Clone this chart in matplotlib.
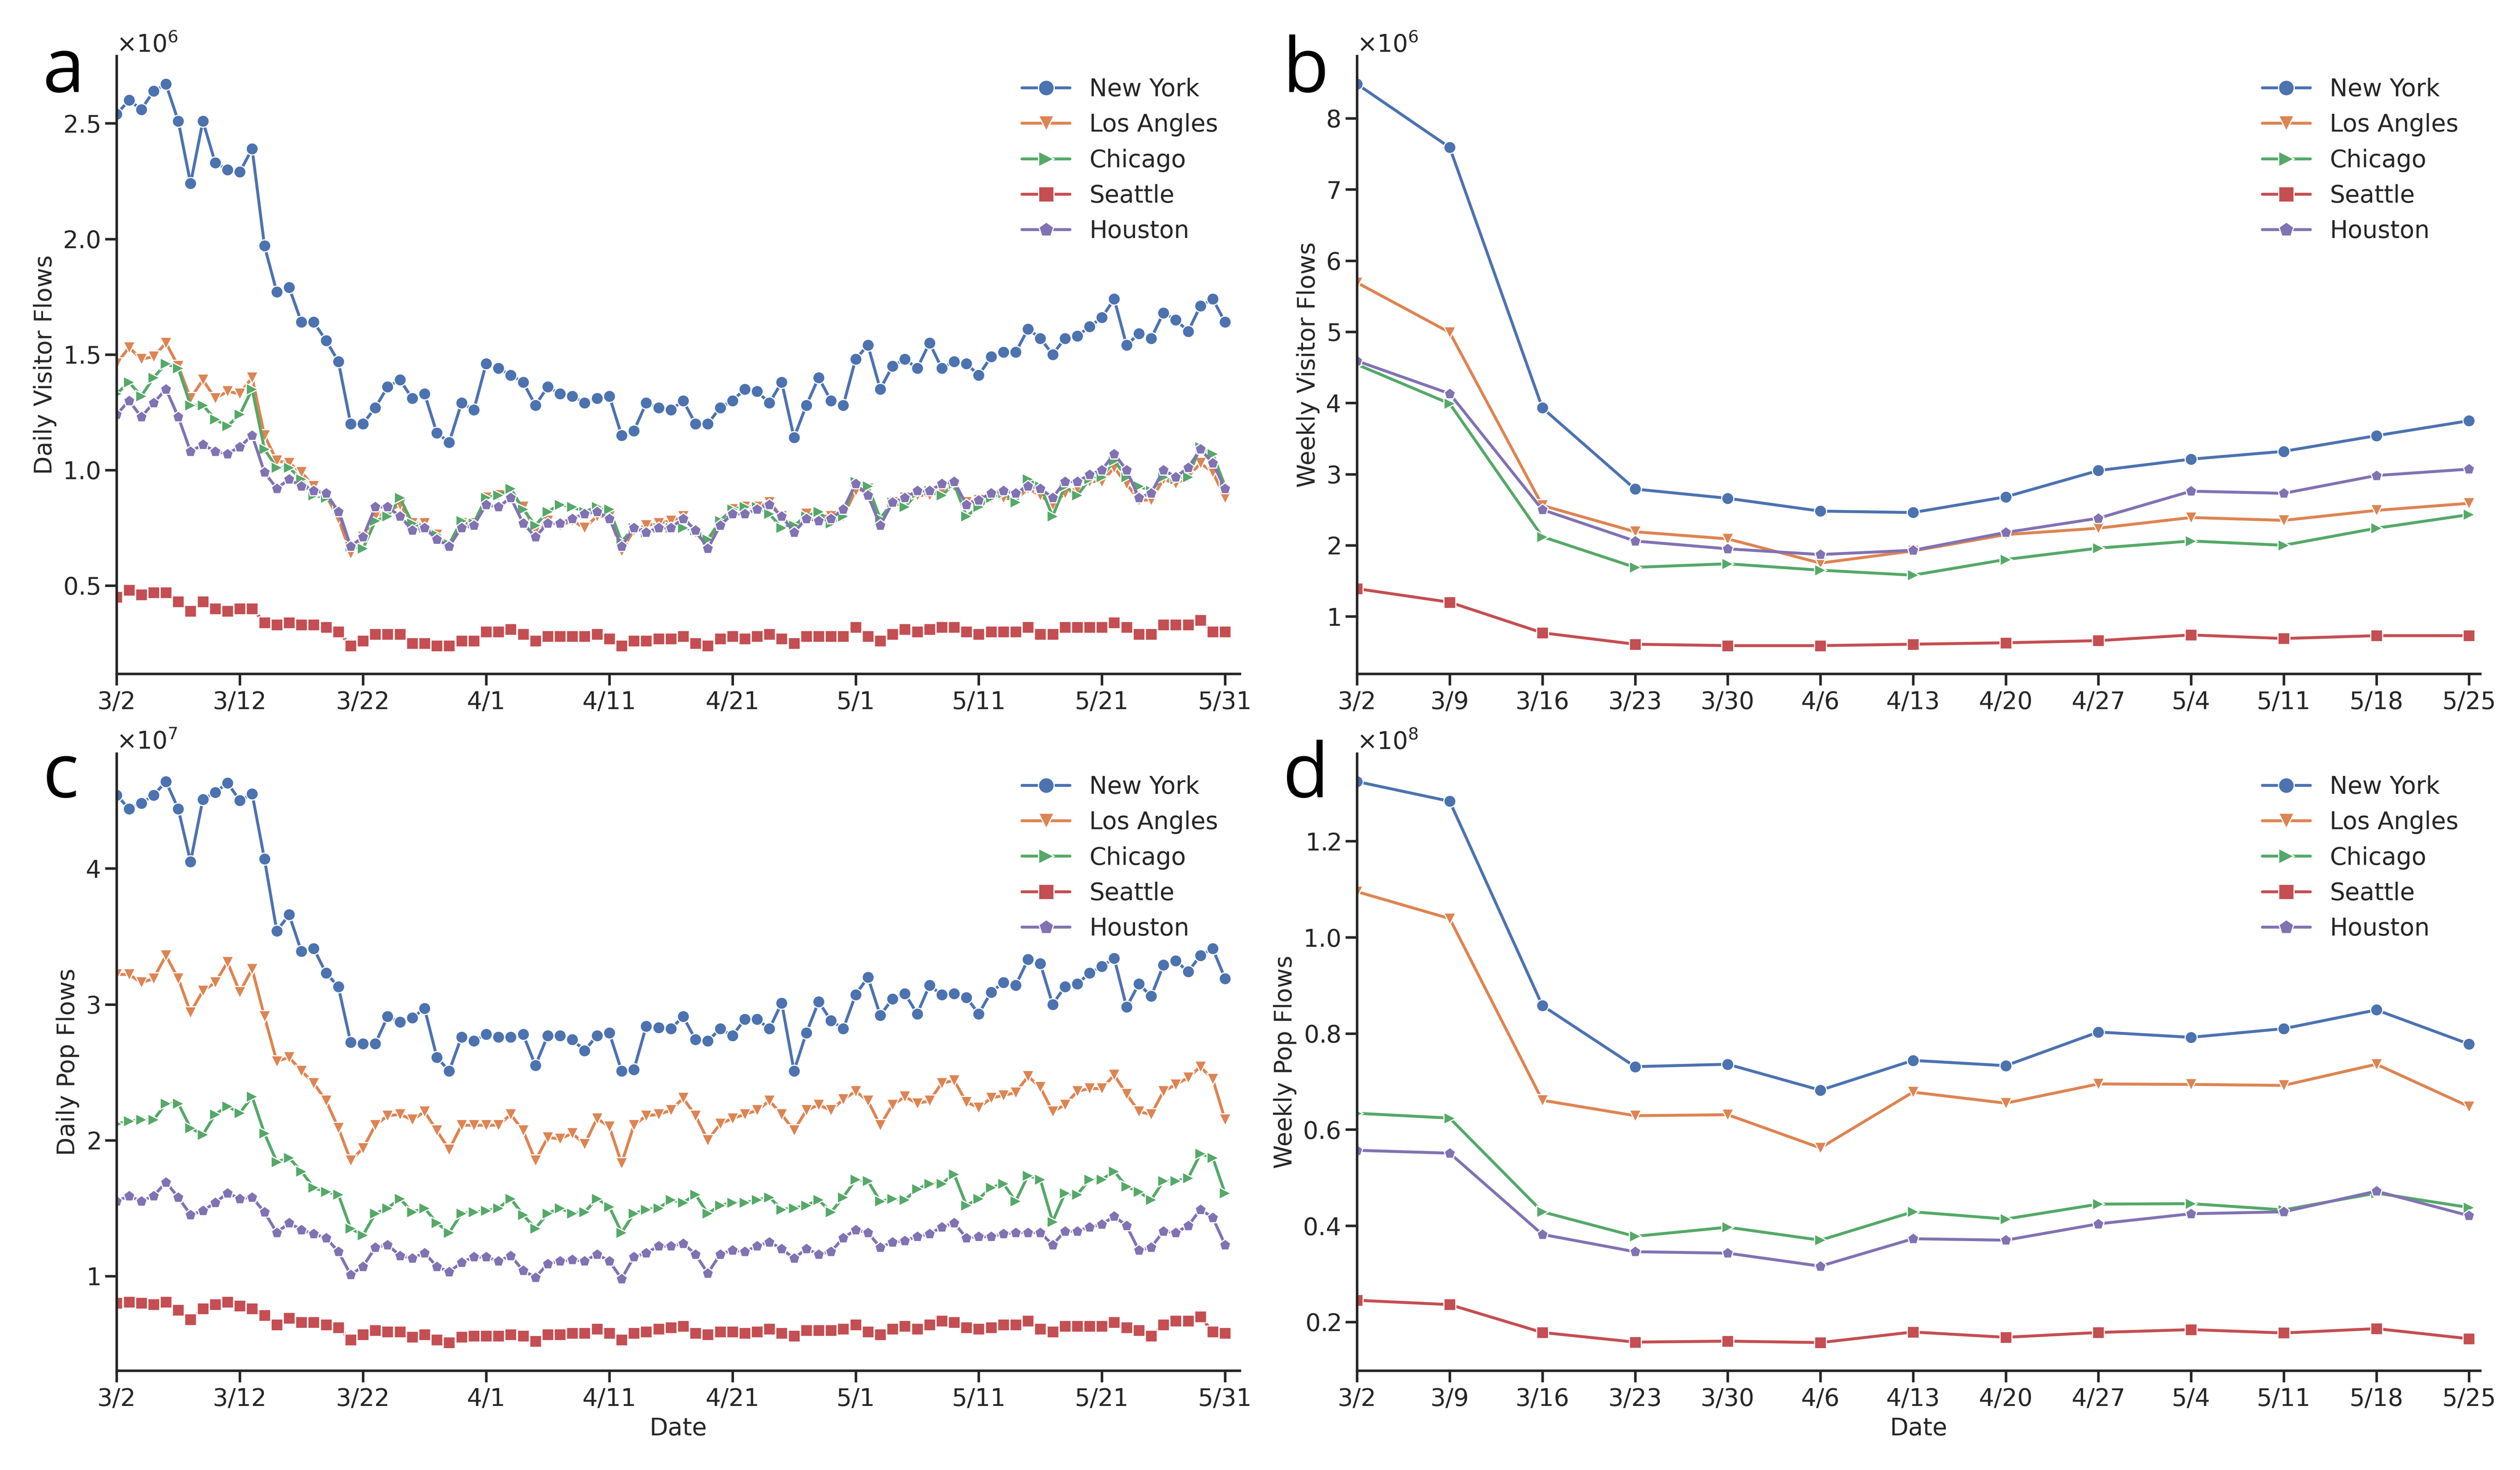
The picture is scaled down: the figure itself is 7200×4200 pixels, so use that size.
import numpy as np
import matplotlib
matplotlib.use('Agg')
from matplotlib import pyplot as plt

cities = ['New York', 'Los Angles', 'Chicago', 'Seattle', 'Houston']
colors = ['#4C72B0', '#DD8452', '#55A868', '#C44E52', '#8172B3']
markers = ['o', 'v', '>', 's', 'p']

daily_ticks = ['3/2', '3/12', '3/22', '4/1', '4/11', '4/21', '5/1', '5/11', '5/21', '5/31']
weekly_ticks = ['3/2', '3/9', '3/16', '3/23', '3/30', '4/6', '4/13', '4/20', '4/27',
                '5/4', '5/11', '5/18', '5/25']

# daily visitor flows, x1e6 (3/2 .. 5/31)
ny_visit = [2.54, 2.60, 2.56, 2.64, 2.67, 2.51, 2.24, 2.51, 2.33, 2.30, 2.29, 2.39, 1.97, 1.77, 1.79, 1.64,
            1.64, 1.56, 1.47, 1.20, 1.20, 1.27, 1.36, 1.39, 1.31, 1.33, 1.16, 1.12, 1.29, 1.26, 1.46,
            1.44, 1.41, 1.38, 1.28, 1.36, 1.33, 1.32, 1.29, 1.31, 1.32, 1.15, 1.17, 1.29, 1.27, 1.26,
            1.30, 1.20, 1.20, 1.27, 1.30, 1.35, 1.34, 1.29, 1.38, 1.14, 1.28, 1.40, 1.30, 1.28, 1.48,
            1.54, 1.35, 1.45, 1.48, 1.44, 1.55, 1.44, 1.47, 1.46, 1.41, 1.49, 1.51, 1.51, 1.61, 1.57,
            1.50, 1.57, 1.58, 1.62, 1.66, 1.74, 1.54, 1.59, 1.57, 1.68, 1.65, 1.60, 1.71, 1.74, 1.64]
la_visit = [1.46, 1.53, 1.48, 1.49, 1.55, 1.45, 1.31, 1.39, 1.31, 1.34, 1.33, 1.40, 1.15, 1.04, 1.03, 0.99,
            0.93, 0.89, 0.79, 0.64, 0.71, 0.80, 0.82, 0.85, 0.77, 0.77, 0.72, 0.67, 0.77, 0.77, 0.88,
            0.89, 0.90, 0.84, 0.74, 0.78, 0.76, 0.78, 0.75, 0.80, 0.80, 0.65, 0.74, 0.76, 0.77, 0.78,
            0.80, 0.73, 0.67, 0.77, 0.83, 0.84, 0.84, 0.86, 0.80, 0.74, 0.81, 0.80, 0.80, 0.80, 0.91,
            0.92, 0.78, 0.86, 0.88, 0.89, 0.89, 0.91, 0.93, 0.86, 0.87, 0.88, 0.88, 0.87, 0.92, 0.89,
            0.85, 0.90, 0.92, 0.95, 0.95, 1.01, 0.94, 0.87, 0.87, 0.96, 0.94, 0.97, 1.03, 0.99, 0.88]
chi_visit = [1.33, 1.38, 1.32, 1.40, 1.46, 1.44, 1.28, 1.28, 1.22, 1.19, 1.24, 1.35, 1.09, 1.01, 1.01, 0.96,
             0.89, 0.88, 0.83, 0.67, 0.66, 0.78, 0.80, 0.88, 0.77, 0.75, 0.72, 0.68, 0.78, 0.77, 0.88,
             0.89, 0.92, 0.83, 0.76, 0.82, 0.85, 0.84, 0.82, 0.84, 0.83, 0.69, 0.75, 0.73, 0.75, 0.75,
             0.75, 0.74, 0.70, 0.78, 0.83, 0.84, 0.84, 0.81, 0.75, 0.76, 0.80, 0.82, 0.77, 0.80, 0.95,
             0.93, 0.79, 0.86, 0.84, 0.90, 0.91, 0.89, 0.94, 0.80, 0.84, 0.88, 0.90, 0.86, 0.96, 0.93,
             0.80, 0.93, 0.89, 0.96, 0.97, 1.04, 0.97, 0.93, 0.91, 0.97, 0.96, 0.97, 1.10, 1.07, 0.93]
sea_visit = [0.45, 0.48, 0.46, 0.47, 0.47, 0.43, 0.39, 0.43, 0.40, 0.39, 0.40, 0.40, 0.34, 0.33, 0.34, 0.33,
             0.33, 0.32, 0.30, 0.24, 0.26, 0.29, 0.29, 0.29, 0.25, 0.25, 0.24, 0.24, 0.26, 0.26, 0.30,
             0.30, 0.31, 0.29, 0.26, 0.28, 0.28, 0.28, 0.28, 0.29, 0.27, 0.24, 0.26, 0.26, 0.27, 0.27,
             0.28, 0.25, 0.24, 0.27, 0.28, 0.27, 0.28, 0.29, 0.27, 0.25, 0.28, 0.28, 0.28, 0.28, 0.32,
             0.28, 0.26, 0.29, 0.31, 0.30, 0.31, 0.32, 0.32, 0.30, 0.29, 0.30, 0.30, 0.30, 0.32, 0.29,
             0.29, 0.32, 0.32, 0.32, 0.32, 0.34, 0.32, 0.29, 0.29, 0.33, 0.33, 0.33, 0.35, 0.30, 0.30]
hou_visit = [1.24, 1.30, 1.23, 1.29, 1.35, 1.23, 1.08, 1.11, 1.08, 1.07, 1.10, 1.15, 0.99, 0.92, 0.96, 0.93,
             0.91, 0.90, 0.82, 0.67, 0.71, 0.84, 0.84, 0.80, 0.74, 0.75, 0.70, 0.67, 0.75, 0.76, 0.85,
             0.84, 0.88, 0.77, 0.71, 0.77, 0.77, 0.79, 0.81, 0.82, 0.79, 0.67, 0.75, 0.73, 0.75, 0.75,
             0.79, 0.74, 0.66, 0.76, 0.81, 0.81, 0.83, 0.85, 0.80, 0.73, 0.79, 0.78, 0.79, 0.83, 0.94,
             0.89, 0.76, 0.86, 0.88, 0.91, 0.91, 0.94, 0.95, 0.85, 0.87, 0.90, 0.91, 0.90, 0.93, 0.92,
             0.88, 0.95, 0.95, 0.98, 1.00, 1.07, 1.00, 0.88, 0.90, 1.00, 0.97, 1.01, 1.09, 1.03, 0.92]

# daily pop flows, x1e7
ny_pop = [4.54, 4.44, 4.48, 4.54, 4.64, 4.44, 4.05, 4.51, 4.56, 4.63, 4.50, 4.55, 4.07, 3.54, 3.66, 3.39,
          3.41, 3.23, 3.13, 2.72, 2.71, 2.71, 2.91, 2.87, 2.90, 2.97, 2.61, 2.51, 2.76, 2.73, 2.78,
          2.76, 2.76, 2.78, 2.55, 2.77, 2.77, 2.74, 2.66, 2.77, 2.79, 2.51, 2.52, 2.84, 2.83, 2.82,
          2.91, 2.74, 2.73, 2.82, 2.77, 2.89, 2.89, 2.82, 3.01, 2.51, 2.79, 3.02, 2.88, 2.82, 3.07,
          3.20, 2.92, 3.04, 3.08, 2.93, 3.14, 3.07, 3.08, 3.05, 2.93, 3.09, 3.16, 3.14, 3.33, 3.30,
          3.00, 3.13, 3.15, 3.23, 3.28, 3.34, 2.98, 3.15, 3.06, 3.29, 3.32, 3.24, 3.36, 3.41, 3.19]
la_pop = [3.22, 3.22, 3.16, 3.19, 3.36, 3.19, 2.94, 3.10, 3.16, 3.31, 3.09, 3.26, 2.91, 2.58, 2.61, 2.51,
          2.42, 2.29, 2.09, 1.85, 1.94, 2.11, 2.18, 2.19, 2.15, 2.21, 2.07, 1.93, 2.11, 2.11, 2.11,
          2.11, 2.19, 2.07, 1.85, 2.02, 2.01, 2.05, 1.97, 2.16, 2.10, 1.83, 2.11, 2.18, 2.19, 2.22,
          2.31, 2.18, 2.00, 2.12, 2.16, 2.19, 2.22, 2.29, 2.19, 2.07, 2.22, 2.26, 2.22, 2.30, 2.36,
          2.29, 2.11, 2.26, 2.32, 2.27, 2.29, 2.42, 2.44, 2.28, 2.24, 2.31, 2.33, 2.35, 2.47, 2.39,
          2.21, 2.26, 2.36, 2.38, 2.38, 2.48, 2.34, 2.21, 2.19, 2.36, 2.41, 2.46, 2.54, 2.45, 2.15]
chi_pop = [2.12, 2.14, 2.15, 2.15, 2.27, 2.27, 2.09, 2.04, 2.19, 2.25, 2.20, 2.32, 2.05, 1.84, 1.87, 1.77,
           1.65, 1.62, 1.60, 1.35, 1.30, 1.46, 1.50, 1.57, 1.47, 1.50, 1.39, 1.32, 1.46, 1.47, 1.48,
           1.50, 1.57, 1.45, 1.35, 1.46, 1.50, 1.46, 1.47, 1.57, 1.51, 1.32, 1.46, 1.49, 1.50, 1.56,
           1.54, 1.60, 1.46, 1.52, 1.54, 1.54, 1.56, 1.58, 1.49, 1.50, 1.52, 1.56, 1.47, 1.58, 1.71,
           1.70, 1.55, 1.57, 1.56, 1.64, 1.68, 1.68, 1.75, 1.52, 1.57, 1.65, 1.68, 1.55, 1.74, 1.71,
           1.40, 1.61, 1.60, 1.71, 1.71, 1.77, 1.66, 1.62, 1.56, 1.70, 1.70, 1.72, 1.90, 1.87, 1.61]
sea_pop = [0.80, 0.81, 0.80, 0.79, 0.81, 0.75, 0.68, 0.76, 0.79, 0.81, 0.78, 0.76, 0.71, 0.64, 0.69, 0.66,
           0.66, 0.64, 0.62, 0.53, 0.57, 0.60, 0.59, 0.59, 0.55, 0.57, 0.53, 0.51, 0.55, 0.56, 0.56,
           0.56, 0.57, 0.56, 0.52, 0.57, 0.57, 0.58, 0.58, 0.61, 0.58, 0.53, 0.58, 0.59, 0.61, 0.62,
           0.63, 0.58, 0.57, 0.59, 0.59, 0.58, 0.59, 0.61, 0.58, 0.56, 0.60, 0.60, 0.60, 0.61, 0.64,
           0.59, 0.57, 0.61, 0.63, 0.61, 0.64, 0.67, 0.66, 0.62, 0.61, 0.62, 0.64, 0.64, 0.67, 0.61,
           0.59, 0.63, 0.63, 0.63, 0.63, 0.66, 0.62, 0.60, 0.56, 0.64, 0.67, 0.67, 0.70, 0.59, 0.58]
hou_pop = [1.55, 1.59, 1.55, 1.59, 1.69, 1.58, 1.45, 1.48, 1.54, 1.61, 1.57, 1.58, 1.47, 1.32, 1.39, 1.34,
           1.31, 1.28, 1.18, 1.01, 1.07, 1.21, 1.23, 1.15, 1.13, 1.17, 1.07, 1.03, 1.10, 1.14, 1.14,
           1.11, 1.15, 1.04, 0.99, 1.09, 1.11, 1.12, 1.11, 1.16, 1.11, 0.98, 1.14, 1.17, 1.22, 1.22,
           1.24, 1.16, 1.02, 1.16, 1.19, 1.18, 1.22, 1.25, 1.20, 1.13, 1.20, 1.16, 1.18, 1.28, 1.34,
           1.32, 1.21, 1.25, 1.26, 1.29, 1.31, 1.36, 1.39, 1.28, 1.29, 1.29, 1.31, 1.32, 1.32, 1.32,
           1.23, 1.33, 1.33, 1.36, 1.38, 1.44, 1.37, 1.19, 1.21, 1.33, 1.32, 1.37, 1.49, 1.43, 1.23]

# weekly visitor flows, x1e6
ny_visit_wk = [8.48, 7.59, 3.93, 2.79, 2.66, 2.48, 2.46, 2.68, 3.05, 3.21, 3.32, 3.54, 3.75]
la_visit_wk = [5.69, 4.99, 2.56, 2.19, 2.09, 1.75, 1.92, 2.15, 2.24, 2.39, 2.35, 2.49, 2.59]
chi_visit_wk = [4.54, 3.99, 2.12, 1.69, 1.74, 1.65, 1.58, 1.80, 1.96, 2.06, 2.00, 2.24, 2.43]
sea_visit_wk = [1.39, 1.20, 0.77, 0.61, 0.59, 0.59, 0.61, 0.63, 0.66, 0.74, 0.69, 0.73, 0.73]
hou_visit_wk = [4.59, 4.13, 2.50, 2.06, 1.95, 1.87, 1.93, 2.18, 2.38, 2.76, 2.73, 2.98, 3.07]

# weekly pop flows, x1e8
ny_pop_wk = [1.324, 1.283, 0.858, 0.731, 0.736, 0.682, 0.744, 0.733, 0.803, 0.792, 0.810, 0.849, 0.778]
la_pop_wk = [1.095, 1.039, 0.661, 0.629, 0.631, 0.562, 0.678, 0.655, 0.695, 0.694, 0.692, 0.736, 0.648]
chi_pop_wk = [0.634, 0.624, 0.429, 0.378, 0.397, 0.370, 0.429, 0.414, 0.445, 0.446, 0.433, 0.468, 0.438]
sea_pop_wk = [0.245, 0.236, 0.178, 0.158, 0.160, 0.157, 0.179, 0.168, 0.178, 0.184, 0.177, 0.186, 0.165]
hou_pop_wk = [0.557, 0.551, 0.382, 0.346, 0.343, 0.316, 0.373, 0.370, 0.404, 0.425, 0.429, 0.472, 0.421]

plt.rcParams['font.family'] = ['DejaVu Sans']
plt.rcParams['text.color'] = '#262626'
plt.rcParams['axes.labelcolor'] = '#262626'
plt.rcParams['xtick.color'] = '#262626'
plt.rcParams['ytick.color'] = '#262626'
plt.rcParams['axes.edgecolor'] = '#262626'
plt.rcParams['lines.solid_capstyle'] = 'round'


def draw_panel(ax, series, scale, ticklabels, step, ylabel, xlabel=None):
    n = len(series[0])
    x = np.arange(n)
    for vals, name, c, m in zip(series, cities, colors, markers):
        ax.plot(x, np.array(vals) * scale, color=c, marker=m, lw=2, ms=8.3,
                mec='white', mew=0.8, label=name)
    ax.set_xticks(np.arange(0, n, step))
    ax.set_xticklabels(ticklabels)
    ax.set_xlim(0, (n - 1) + step * 0.12)
    ax.ticklabel_format(axis='y', style='sci', scilimits=(0, 0), useMathText=True)
    ax.yaxis.get_offset_text().set_fontsize(16.5)
    ax.tick_params(labelsize=16.5, width=1.75, length=8)
    for s in ['top', 'right']:
        ax.spines[s].set_visible(False)
    for s in ['left', 'bottom']:
        ax.spines[s].set_linewidth(1.75)
    ax.set_ylabel(ylabel, fontsize=16.5)
    if xlabel:
        ax.set_xlabel(xlabel, fontsize=16.5)
    ax.legend(loc='upper right', frameon=False, fontsize=16.5, labelspacing=0.5,
              handlelength=2.0, markerscale=1.3)


fig = plt.figure(figsize=(24, 14), dpi=300)
ax_a = fig.add_axes([0.0463, 0.5417, 0.4457, 0.4202])
ax_b = fig.add_axes([0.5385, 0.5417, 0.4457, 0.4202])
ax_c = fig.add_axes([0.0463, 0.0676, 0.4457, 0.4198])
ax_d = fig.add_axes([0.5385, 0.0676, 0.4457, 0.4198])

draw_panel(ax_a, [ny_visit, la_visit, chi_visit, sea_visit, hou_visit], 1e6,
           daily_ticks, 10, 'Daily Visitor Flows')
draw_panel(ax_b, [ny_visit_wk, la_visit_wk, chi_visit_wk, sea_visit_wk, hou_visit_wk], 1e6,
           weekly_ticks, 1, 'Weekly Visitor Flows')
draw_panel(ax_c, [ny_pop, la_pop, chi_pop, sea_pop, hou_pop], 1e7,
           daily_ticks, 10, 'Daily Pop Flows', 'Date')
draw_panel(ax_d, [ny_pop_wk, la_pop_wk, chi_pop_wk, sea_pop_wk, hou_pop_wk], 1e8,
           weekly_ticks, 1, 'Weekly Pop Flows', 'Date')

for lbl, px, py in [('a', 0.017, 0.9374), ('b', 0.509, 0.9374),
                    ('c', 0.017, 0.4576), ('d', 0.509, 0.4576)]:
    fig.text(px, py, lbl, fontsize=52, family='Open Sans', color='black', va='baseline')

fig.savefig('out.png', dpi=300)
